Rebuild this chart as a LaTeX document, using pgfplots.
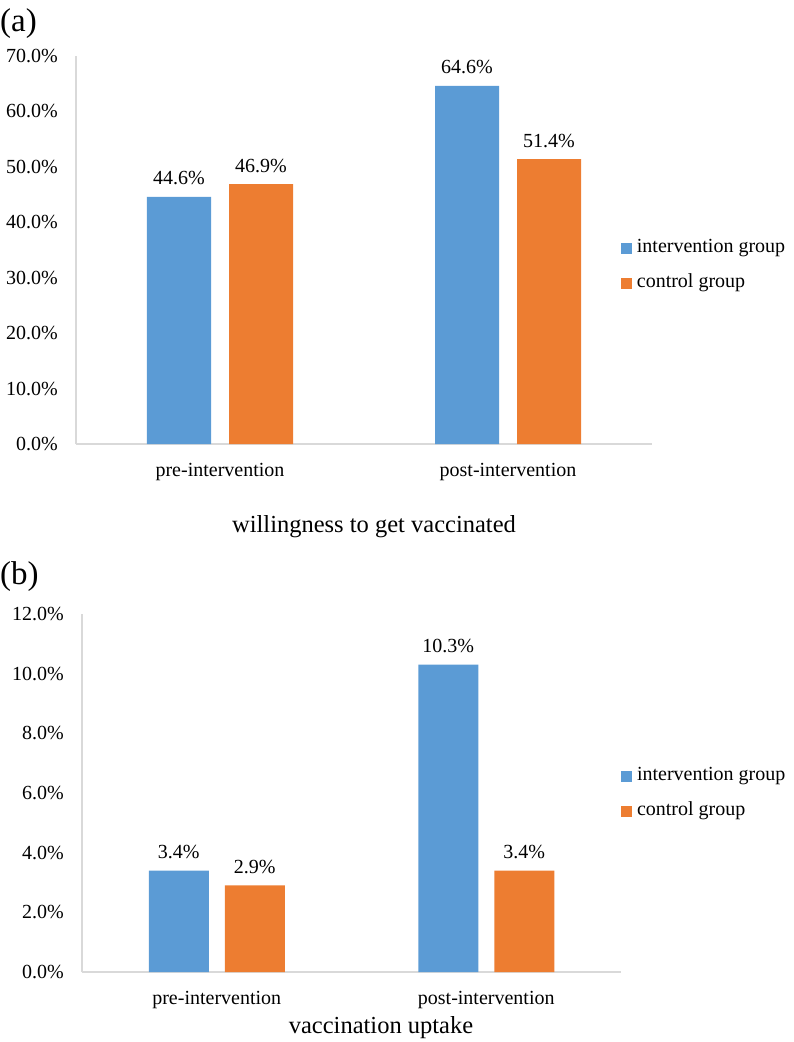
\documentclass[border=0pt]{standalone}
\usepackage{fontspec}
\setmainfont{Liberation Serif}
\usepackage{pgfplots}
\pgfplotsset{compat=1.18}
\definecolor{cblue}{HTML}{5B9BD5}
\definecolor{corange}{HTML}{ED7D31}
\definecolor{axgray}{HTML}{D9D9D9}
\pgfplotsset{
  mybar/.style={
    scale only axis, xmin=-0.5, xmax=1.5, ymin=0,
    axis x line=bottom, axis y line=left,
    axis line style={draw=axgray, line width=1.2pt, -},
    xtick={0,1}, xticklabels={pre-intervention,post-intervention},
    major tick length=0pt, tick style={draw=none},
    /pgf/number format/assume math mode=true,
    yticklabel={\pgfmathprintnumber[fixed,fixed zerofill,precision=1]{\tick}\%},
    ticklabel style={font=\fontsize{20}{24}\selectfont, inner sep=0pt},
    yticklabel style={anchor=east, xshift=-18pt},
    xticklabel style={anchor=base, yshift=-32pt},
    ybar,
    nodes near coords={\pgfmathprintnumber[fixed,fixed zerofill,precision=1]{\pgfplotspointmeta}\%},
    every node near coord/.append style={font=\fontsize{20}{24}\selectfont, anchor=base, inner sep=0pt, yshift=12pt, text=black},
    legend style={draw=none, fill=none, inner sep=0pt, outer sep=0pt, column sep=5pt, row sep=16pt, anchor=west, font=\fontsize{20}{24}\selectfont, nodes={inner sep=0pt, text height=14pt, text depth=5pt}},
    legend cell align=left,
    legend image code/.code={\fill[#1] (0pt,-5.5pt) rectangle (11pt,5.5pt);},
    clip=false,
  }
}
\begin{document}
\begin{tikzpicture}
\useasboundingbox (0,0) rectangle (794pt,-1042pt);
\node[font=\fontsize{33}{38}\selectfont, anchor=base west, inner sep=0pt] at (0pt,-31pt) {(a)};
\node[font=\fontsize{33}{38}\selectfont, anchor=base west, inner sep=0pt] at (0pt,-584pt) {(b)};
\node[font=\fontsize{24.5}{28}\selectfont, anchor=base, inner sep=0pt] at (374pt,-532pt) {willingness to get vaccinated};
\node[font=\fontsize{24.5}{28}\selectfont, anchor=base, inner sep=0pt] at (381pt,-1033pt) {vaccination uptake};

\begin{axis}[mybar, at={(76pt,-444pt)}, anchor=south west, width=576pt, height=388pt,
  ymax=70, ytick={0,10,...,70}, legend style={at={(0.946,0.46)}}]
\addplot[fill=cblue, draw=none, bar width=64pt, bar shift=-41pt] coordinates {(0,44.6) (1,64.6)};
\addplot[fill=corange, draw=none, bar width=64pt, bar shift=41pt] coordinates {(0,46.9) (1,51.4)};
\legend{intervention group, control group}
\end{axis}

\begin{axis}[mybar, at={(82pt,-972pt)}, anchor=south west, width=539pt, height=358pt,
  ymax=12, ytick={0,2,...,12}, legend style={at={(1.0,0.4986)}}]
\addplot[fill=cblue, draw=none, bar width=60pt, bar shift=-38pt] coordinates {(0,3.4) (1,10.3)};
\addplot[fill=corange, draw=none, bar width=60pt, bar shift=38pt] coordinates {(0,2.9) (1,3.4)};
\legend{intervention group, control group}
\end{axis}
\end{tikzpicture}
\end{document}
